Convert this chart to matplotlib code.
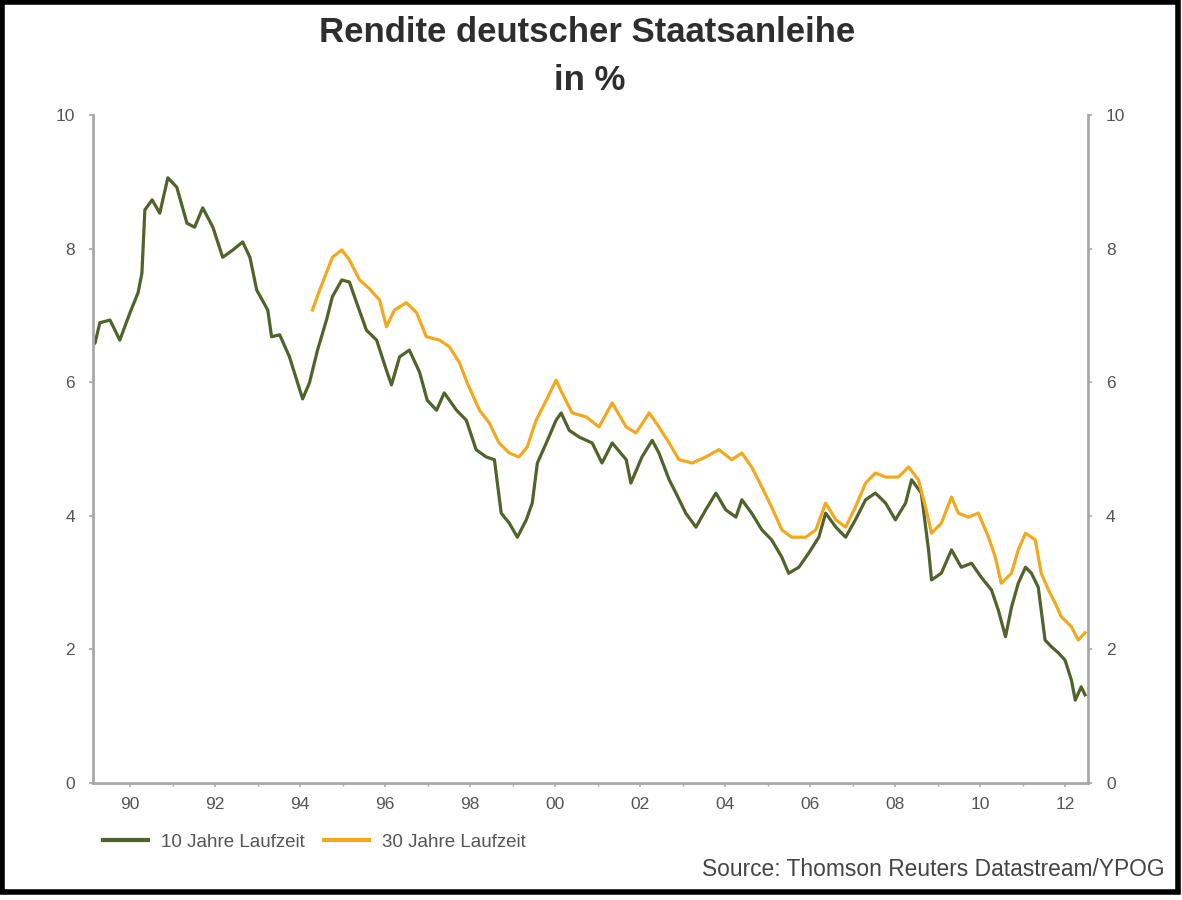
import matplotlib
matplotlib.use("Agg")
import matplotlib.pyplot as plt
from matplotlib.patches import Rectangle
import numpy as np

plt.rcParams['font.family'] = ['Liberation Sans', 'DejaVu Sans']

title = "Rendite deutscher Staatsanleihe\nin %"
series_names = ["10 Jahre Laufzeit", "30 Jahre Laufzeit"]
source_text = "Source: Thomson Reuters Datastream/YPOG"

year_ticks = [1990, 1992, 1994, 1996, 1998, 2000, 2002, 2004, 2006, 2008, 2010, 2012]
year_labels = ["90", "92", "94", "96", "98", "00", "02", "04", "06", "08", "10", "12"]
y_ticks = [0, 2, 4, 6, 8, 10]

# 10-year yield (decimal year, %)
t10 = [1989.13, 1989.18, 1989.29, 1989.53, 1989.76, 1990.00, 1990.19, 1990.28, 1990.35, 1990.52,
       1990.70, 1990.89, 1991.10, 1991.34, 1991.52, 1991.71, 1991.95, 1992.18, 1992.42, 1992.65,
       1992.82, 1992.98, 1993.24, 1993.33, 1993.52, 1993.75, 1994.06, 1994.22, 1994.41, 1994.62,
       1994.76, 1994.98, 1995.16, 1995.33, 1995.56, 1995.80, 1996.03, 1996.15, 1996.34, 1996.57,
       1996.81, 1996.99, 1997.21, 1997.39, 1997.68, 1997.91, 1998.14, 1998.38, 1998.57, 1998.73,
       1998.92, 1999.11, 1999.32, 1999.46, 1999.58, 1999.79, 2000.02, 2000.14, 2000.33, 2000.56,
       2000.87, 2001.10, 2001.34, 2001.67, 2001.78, 2002.04, 2002.28, 2002.44, 2002.68, 2002.84,
       2003.07, 2003.31, 2003.54, 2003.78, 2004.01, 2004.25, 2004.39, 2004.62, 2004.86, 2005.09,
       2005.33, 2005.49, 2005.73, 2005.96, 2006.20, 2006.36, 2006.60, 2006.83, 2007.06, 2007.30,
       2007.53, 2007.77, 2008.00, 2008.24, 2008.38, 2008.61, 2008.78, 2008.85, 2009.08, 2009.32,
       2009.55, 2009.79, 2010.02, 2010.26, 2010.42, 2010.59, 2010.73, 2010.89, 2011.06, 2011.20,
       2011.36, 2011.52, 2011.67, 2011.83, 2011.99, 2012.14, 2012.23, 2012.37, 2012.46]
y10 = [6.56, 6.59, 6.89, 6.93, 6.63, 7.04, 7.34, 7.63, 8.58, 8.73,
       8.53, 9.06, 8.92, 8.38, 8.32, 8.61, 8.32, 7.87, 7.98, 8.10,
       7.87, 7.38, 7.08, 6.68, 6.71, 6.38, 5.75, 5.99, 6.48, 6.93,
       7.28, 7.53, 7.50, 7.19, 6.78, 6.63, 6.18, 5.96, 6.38, 6.48,
       6.15, 5.73, 5.58, 5.84, 5.58, 5.43, 4.99, 4.88, 4.84, 4.04,
       3.89, 3.68, 3.94, 4.19, 4.79, 5.09, 5.43, 5.54, 5.28, 5.18,
       5.09, 4.79, 5.09, 4.84, 4.49, 4.88, 5.13, 4.94, 4.54, 4.34,
       4.04, 3.83, 4.09, 4.34, 4.09, 3.98, 4.24, 4.04, 3.79, 3.64,
       3.38, 3.14, 3.23, 3.44, 3.68, 4.04, 3.83, 3.68, 3.94, 4.24,
       4.34, 4.19, 3.94, 4.19, 4.54, 4.34, 3.49, 3.04, 3.14, 3.49,
       3.23, 3.29, 3.08, 2.89, 2.59, 2.19, 2.63, 2.99, 3.23, 3.14,
       2.93, 2.14, 2.04, 1.95, 1.84, 1.54, 1.24, 1.44, 1.32]

# 30-year yield (decimal year, %)
t30 = [1994.29, 1994.46, 1994.76, 1994.98, 1995.16, 1995.40, 1995.63, 1995.87, 1996.03, 1996.22,
       1996.50, 1996.74, 1996.97, 1997.28, 1997.51, 1997.75, 1997.93, 1998.22, 1998.45, 1998.68,
       1998.92, 1999.15, 1999.34, 1999.55, 1999.79, 2000.02, 2000.16, 2000.40, 2000.73, 2001.03,
       2001.34, 2001.67, 2001.90, 2002.21, 2002.44, 2002.68, 2002.91, 2003.22, 2003.54, 2003.85,
       2004.15, 2004.39, 2004.62, 2004.86, 2005.09, 2005.33, 2005.56, 2005.89, 2006.13, 2006.36,
       2006.60, 2006.83, 2007.06, 2007.30, 2007.53, 2007.77, 2008.07, 2008.31, 2008.54, 2008.71,
       2008.85, 2009.08, 2009.32, 2009.48, 2009.72, 2009.95, 2010.19, 2010.35, 2010.49, 2010.73,
       2010.89, 2011.06, 2011.29, 2011.43, 2011.60, 2011.76, 2011.90, 2012.14, 2012.30, 2012.46]
y30 = [7.08, 7.38, 7.87, 7.98, 7.83, 7.53, 7.40, 7.23, 6.83, 7.08,
       7.19, 7.04, 6.68, 6.63, 6.53, 6.29, 5.99, 5.58, 5.39, 5.09,
       4.94, 4.88, 5.03, 5.43, 5.73, 6.03, 5.84, 5.54, 5.48, 5.33,
       5.69, 5.33, 5.24, 5.54, 5.33, 5.09, 4.84, 4.79, 4.88, 4.99,
       4.84, 4.94, 4.73, 4.43, 4.13, 3.79, 3.68, 3.68, 3.79, 4.19,
       3.94, 3.83, 4.13, 4.49, 4.64, 4.58, 4.58, 4.73, 4.54, 4.13,
       3.74, 3.89, 4.28, 4.04, 3.98, 4.04, 3.68, 3.38, 2.99, 3.14,
       3.49, 3.74, 3.64, 3.14, 2.89, 2.69, 2.49, 2.34, 2.14, 2.25]

W, H = 1182, 900
fig = plt.figure(figsize=(W / 100, H / 100), dpi=100)
fig.patch.set_facecolor('white')

ax = fig.add_axes([93 / W, 1 - 783 / H, (1088 - 93) / W, (783 - 115) / H])
green = '#51622a'
orange = '#f2a91e'
ax.plot(t10, y10, color=green, lw=2.3, label=series_names[0], zorder=2)
ax.plot(t30, y30, color=orange, lw=2.3, label=series_names[1], zorder=3)
ax.set_xlim(1989.13, 2012.53)
ax.set_ylim(0, 10)

axis_col = '#a8a8a8'
for s in ['left', 'right', 'bottom']:
    ax.spines[s].set_color(axis_col)
    ax.spines[s].set_linewidth(2.0)
ax.spines['top'].set_visible(False)

ax.set_yticks(y_ticks)
ax.set_yticklabels([str(v) for v in y_ticks])
ax.set_xticks(year_ticks)
ax.set_xticklabels(year_labels)
ax.set_xticks(np.arange(1990, 2013, 1), minor=True)
ax.tick_params(axis='both', which='both', direction='out', color=axis_col,
               labelcolor='#555555', labelsize=12.5)
ax.tick_params(axis='y', which='major', length=3, width=1.2, pad=10,
               left=True, right=True, labelleft=True, labelright=True)
ax.tick_params(axis='x', which='major', length=3, width=1.2, pad=7)
ax.tick_params(axis='x', which='minor', length=2, width=1.0)

fig.text(587 / W, 1 - 33 / H, "Rendite deutscher Staatsanleihe", ha='center', va='center',
         fontsize=25, fontweight='bold', color='#2e2e2e')
fig.text(590 / W, 1 - 80 / H, "in %", ha='center', va='center',
         fontsize=25, fontweight='bold', color='#2e2e2e')

leg = fig.legend(loc='center left', bbox_to_anchor=(103 / W, 1 - 842 / H), ncol=2,
                 frameon=False, fontsize=13.5, handlelength=2.4, handletextpad=0.7,
                 columnspacing=1.0, borderpad=0, borderaxespad=0)
for txt in leg.get_texts():
    txt.set_color('#555555')
for line in leg.get_lines():
    line.set_linewidth(3)

fig.text(1165 / W, 1 - 870 / H, source_text, ha='right', va='center',
         fontsize=16.4, color='#444444')

fig.patches.append(Rectangle((2 / W, 8 / H), (W - 6) / W, (H - 10) / H,
                             transform=fig.transFigure, fill=False,
                             edgecolor='black', linewidth=4, zorder=10))

fig.savefig('out.png', dpi=100, facecolor='white')
